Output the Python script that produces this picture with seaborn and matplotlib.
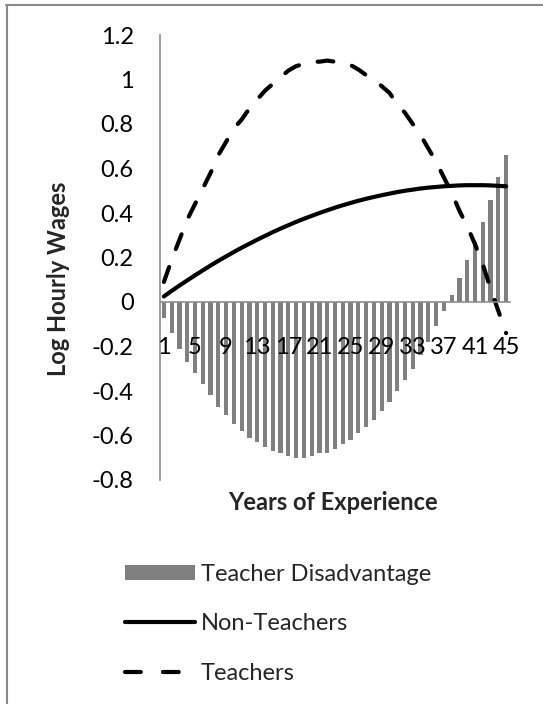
# Teacher vs non-teacher log hourly wages over experience

import pandas as pd
import matplotlib
matplotlib.use("Agg")
import matplotlib.pyplot as plt
import seaborn as sns
from matplotlib.lines import Line2D
from matplotlib.patches import Patch

# Data
years = list(range(1, 46))
non_teachers = [0.025, 0.050, 0.074, 0.097, 0.120, 0.142, 0.164, 0.185, 0.205, 0.225,
                0.244, 0.262, 0.280, 0.297, 0.314, 0.330, 0.345, 0.360, 0.374, 0.387,
                0.400, 0.412, 0.424, 0.435, 0.445, 0.455, 0.464, 0.472, 0.480, 0.487,
                0.494, 0.500, 0.505, 0.510, 0.514, 0.517, 0.520, 0.522, 0.524, 0.525,
                0.525, 0.525, 0.524, 0.522, 0.520]
teachers = [0.09, 0.19, 0.28, 0.37, 0.44, 0.51, 0.58, 0.66, 0.72, 0.78,
            0.82, 0.87, 0.91, 0.95, 0.98, 1.01, 1.04, 1.06, 1.07, 1.08,
            1.08, 1.085, 1.08, 1.075, 1.065, 1.045, 1.02, 1.00, 0.97, 0.94,
            0.89, 0.85, 0.80, 0.75, 0.69, 0.63, 0.56, 0.49, 0.41, 0.34,
            0.26, 0.17, 0.06, -0.04, -0.14]
disadvantage = [-0.07, -0.14, -0.21, -0.27, -0.32, -0.37, -0.42, -0.47, -0.51, -0.55,
                -0.58, -0.61, -0.63, -0.65, -0.67, -0.68, -0.69, -0.70, -0.70, -0.69,
                -0.68, -0.68, -0.66, -0.64, -0.62, -0.59, -0.56, -0.53, -0.49, -0.45,
                -0.40, -0.35, -0.30, -0.24, -0.18, -0.11, -0.04, 0.03, 0.11, 0.19,
                0.27, 0.36, 0.46, 0.56, 0.66]
xtick_years = [1, 5, 9, 13, 17, 21, 25, 29, 33, 37, 41, 45]
yticks = [-0.8, -0.6, -0.4, -0.2, 0, 0.2, 0.4, 0.6, 0.8, 1, 1.2]
ytick_labels = ["-0.8", "-0.6", "-0.4", "-0.2", "0", "0.2", "0.4", "0.6", "0.8", "1", "1.2"]

df = pd.DataFrame({"year": years, "non_teachers": non_teachers,
                   "teachers": teachers, "disadvantage": disadvantage})

sns.set_theme(style="white")
plt.rcParams['font.family'] = ['Lato', 'DejaVu Sans']

W, H = 543, 704
fig = plt.figure(figsize=(W / 100, H / 100), dpi=100)
ax = fig.add_axes([160 / W, 1 - 480 / H, 350 / W, 445 / H])

BAR = "#808080"
AXC = "#8c8c8c"
FS = 17
DASH = (0, (3.8, 4.6))

sns.barplot(data=df, x="year", y="disadvantage", native_scale=True, color=BAR,
            saturation=1, width=0.55, linewidth=0, ax=ax)
sns.lineplot(data=df, x="year", y="non_teachers", color="black", lw=3,
             errorbar=None, ax=ax)
sns.lineplot(data=df, x="year", y="teachers", color="black", lw=3,
             errorbar=None, ax=ax)
tl = ax.lines[-1]
tl.set_linestyle(DASH)
tl.set_dash_capstyle("round")

ax.set_xlim(0.5, 45.5)
ax.set_ylim(-0.8, 1.2)
ax.set_xticks(xtick_years)
ax.set_xticklabels([str(y) for y in xtick_years])
ax.set_yticks(yticks)
ax.set_yticklabels(ytick_labels)
ax.set_xlabel("")
ax.set_ylabel("")
ax.set_axisbelow(False)  # tick labels sit on top of the bars

for s in ["top", "right"]:
    ax.spines[s].set_visible(False)
ax.spines["bottom"].set_position(("data", 0))
for s in ["left", "bottom"]:
    ax.spines[s].set_color(AXC)
    ax.spines[s].set_linewidth(1.2)
ax.tick_params(axis="both", length=0, labelsize=FS, colors="black")
ax.tick_params(axis="x", pad=25)
ax.tick_params(axis="y", pad=19)

fig.text(59 / W, 1 - 279 / H, "Log Hourly Wages", rotation=90, ha="center", va="center",
         fontsize=FS, fontweight="bold")
fig.text(333 / W, 1 - 502 / H, "Years of Experience", ha="center", va="center",
         fontsize=FS, fontweight="bold")

handles = [Patch(facecolor=BAR, edgecolor="none"),
           Line2D([], [], color="black", lw=3),
           Line2D([], [], color="black", lw=3, linestyle=(0, (3.8, 5.3)),
                  dash_capstyle="round")]
labels = ["Teacher Disadvantage", "Non-Teachers", "Teachers"]
fig.legend(handles, labels, loc="upper left", bbox_to_anchor=(125 / W, 1 - 564 / H),
           frameon=False, fontsize=FS, handlelength=2.95, handleheight=0.6,
           handletextpad=0.25, labelspacing=1.2, borderpad=0, borderaxespad=0)

# frame lines of the original chart area
fig.add_artist(Line2D([6 / W, 1], [1 - 5 / H, 1 - 5 / H], transform=fig.transFigure,
                      color="#8a8a8a", lw=1.5))
fig.add_artist(Line2D([7 / W, 7 / W], [0, 1 - 5 / H], transform=fig.transFigure,
                      color="#8a8a8a", lw=1.5))

fig.savefig("out.png", dpi=100)
